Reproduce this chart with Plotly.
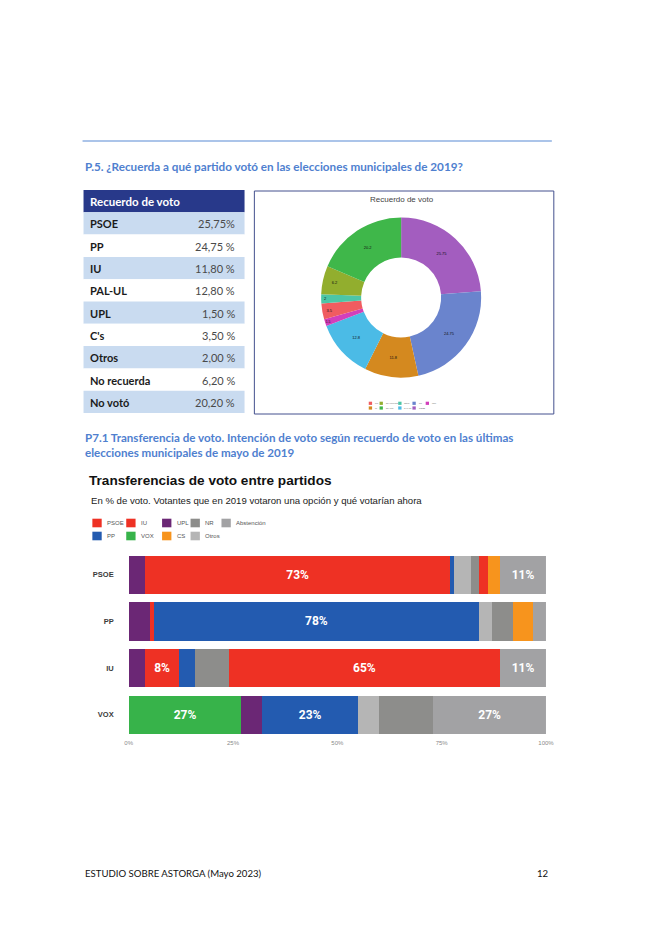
import plotly.graph_objects as go

W, H = 660, 934


def px(x):
    return x / W


def py(y):
    return 1 - y / H


# ---------------- Data: recall of vote (table + donut) ----------------
recall_parties = ["PSOE", "PP", "IU", "PAL-UL", "UPL", "C's", "Otros", "No recuerda", "No votó"]
recall_values = [25.75, 24.75, 11.80, 12.80, 1.50, 3.50, 2.00, 6.20, 20.20]
recall_text = ["25,75%", "24,75 %", "11,80 %", "12,80 %", "1,50 %", "3,50 %", "2,00 %", "6,20 %", "20,20 %"]
donut_colors = ["#a35dbf", "#6a84cd", "#d4891f", "#4bbbe6", "#d23fbb",
                "#f05c60", "#4cc6a6", "#92ae2e", "#3fb74a"]

# ---------------- Data: vote transfers ----------------
origin = ["PSOE", "PP", "IU", "VOX"]
dest_names = ["VOX", "UPL", "PSOE", "PP", "Otros", "NR", "IU", "CS", "Abstención"]
vox = [0, 0, 0, 27]
upl = [4, 5, 4, 5]
psoe = [73, 1, 8, 0]
pp = [1, 78, 4, 23]
otros = [4, 3, 0, 5]
nr = [2, 5, 8, 13]
iu = [2, 0, 65, 0]
cs = [3, 5, 0, 0]
abst = [11, 3, 11, 27]
dest_values = [vox, upl, psoe, pp, otros, nr, iu, cs, abst]
dest_colors = ["#37b34a", "#6b2775", "#ee3124", "#235bb0", "#b5b5b5",
               "#8d8d8b", "#ee3124", "#f7941d", "#a2a2a4"]
labelled = {"VOX", "UPL", "PSOE", "PP", "IU", "CS", "Abstención"}
x_ticks = [0, 25, 50, 75, 100]
x_tick_text = ["0%", "25%", "50%", "75%", "100%"]

fig = go.Figure()

shapes = []
annotations = []


def ann(text, x, y, size, color, family="Lato", xanchor="left", weight=None):
    f = dict(size=size, color=color, family=family)
    if weight:
        f["weight"] = weight
    annotations.append(dict(text=text, x=px(x), y=py(y), xref="paper", yref="paper",
                            xanchor=xanchor, yanchor="middle", showarrow=False, font=f))


# ---------------- Table (drawn as cells) ----------------
tab_x0, tab_x1, tab_top, row_h = 81, 245, 190, 22.3
shapes.append(dict(type="rect", xref="paper", yref="paper", x0=px(tab_x0), x1=px(tab_x1),
                   y0=py(tab_top + row_h), y1=py(tab_top), fillcolor="#28398a", line_width=0, layer="below"))
ann("<b>Recuerdo de voto</b>", tab_x0 + 5, tab_top + row_h / 2 + 0.5, 11.5, "white")
for i, (party, vtxt) in enumerate(zip(recall_parties, recall_text)):
    top = tab_top + row_h * (i + 1)
    fill = "#c9dbf0" if i % 2 == 0 else "#ffffff"
    shapes.append(dict(type="rect", xref="paper", yref="paper", x0=px(tab_x0), x1=px(tab_x1),
                       y0=py(top + row_h), y1=py(top), fillcolor=fill, line_width=0, layer="below"))
    ann(f"<b>{party}</b>", tab_x0 + 5, top + row_h / 2 + 0.5, 11, "#1b1b1b")
    ann(vtxt, tab_x1 - 8, top + row_h / 2 + 0.5, 11, "#4a4a4a", xanchor="right")

# ---------------- Donut ----------------
fig.add_trace(go.Pie(
    labels=recall_parties, values=recall_values, marker=dict(colors=donut_colors),
    hole=0.5, sort=False, direction="clockwise", rotation=0,
    texttemplate="%{value}", textposition="inside", insidetextorientation="horizontal",
    textfont=dict(size=4, color="#111", family="Liberation Sans"),
    domain=dict(x=[px(323), px(486)], y=[py(379), py(216)]),
    showlegend=False, hoverinfo="skip",
))

# ---------------- Stacked bars ----------------
for name, vals, col in zip(dest_names, dest_values, dest_colors):
    txt = [f"{v}%" if (name in labelled and v >= 8) else "" for v in vals]
    fig.add_trace(go.Bar(
        y=origin, x=vals, name=name, orientation="h", marker=dict(color=col, line_width=0),
        text=txt, texttemplate="<b>%{text}</b>", textposition="inside",
        insidetextanchor="middle", textangle=0,
        textfont=dict(color="white", size=12, family="Roboto"),
        showlegend=False, hoverinfo="skip", xaxis="x", yaxis="y",
    ))

# top rule
shapes.append(dict(type="line", xref="paper", yref="paper", x0=px(80), x1=px(558),
                   y0=py(141), y1=py(141), line=dict(color="#8fb1e2", width=1.5)))
# donut box
shapes.append(dict(type="rect", xref="paper", yref="paper", x0=px(255), x1=px(560),
                   y0=py(414), y1=py(191), line=dict(color="#44508e", width=1)))

heading_color = "#4f80cf"
ann("<b>P.5. ¿Recuerda a qué partido votó en las elecciones municipales de 2019?</b>", 80, 166, 11.7, heading_color)
ann("<b>P7.1 Transferencia de voto. Intención de voto según recuerdo de voto en las últimas</b>", 80, 437.5, 11.6, heading_color)
ann("<b>elecciones municipales de mayo de 2019</b>", 80, 452, 11.6, heading_color)
ann("Recuerdo de voto", 405, 199, 8, "#444", family="Liberation Sans", xanchor="center")
ann("<b>Transferencias de voto entre partidos</b>", 85, 480, 13.6, "#111", family="Liberation Sans")
ann("En % de voto. Votantes que en 2019 votaron una opción y qué votarían ahora", 87, 500, 9.6, "#222",
    family="Liberation Sans")
ann("ESTUDIO SOBRE ASTORGA (Mayo 2023)", 80, 873, 9.6, "#111")
ann("12", 557, 873, 9.6, "#111", xanchor="right")

# donut legend (alphabetical, column-major in 2 rows)
leg_items = sorted(zip(recall_parties, donut_colors), key=lambda t: t[0])
leg_cols_x = [371.5, 382.5, 401.5, 416, 429.5]
leg_rows_y = [403.3, 408]
for i, (lab, col) in enumerate(leg_items):
    cx = leg_cols_x[i // 2]
    cy = leg_rows_y[i % 2]
    shapes.append(dict(type="rect", xref="paper", yref="paper", x0=px(cx), x1=px(cx + 3.4),
                       y0=py(cy + 1.6), y1=py(cy - 1.6), fillcolor=col, line_width=0))
    ann(lab, cx + 4.2, cy, 2.2, "#666", family="Liberation Sans")

# bar legend (column-major in 2 rows)
bar_leg_order = ["PSOE", "PP", "IU", "VOX", "UPL", "CS", "NR", "Otros", "Abstención"]
bar_cols_x = [90, 124.5, 161, 190, 221.5]
bar_rows_y = [523, 536]
color_of = {}
for n, c in zip(dest_names, dest_colors):
    color_of.setdefault(n, c)
for i, lab in enumerate(bar_leg_order):
    cx = bar_cols_x[i // 2]
    cy = bar_rows_y[i % 2]
    shapes.append(dict(type="rect", xref="paper", yref="paper", x0=px(cx), x1=px(cx + 9.5),
                       y0=py(cy + 4.3), y1=py(cy - 4.3), fillcolor=color_of[lab], line_width=0))
    ann(lab, cx + 13, cy, 6, "#555", family="Liberation Sans")

fig.update_layout(
    width=W, height=H, autosize=False, margin=dict(l=0, r=0, t=0, b=0, pad=0),
    paper_bgcolor="white", plot_bgcolor="white",
    barmode="stack", bargap=0.18,
    showlegend=False,
    xaxis=dict(domain=[px(127), px(552)], range=[0, 100], tickvals=x_ticks, ticktext=x_tick_text,
               showgrid=False, zeroline=False, showline=False, ticks="",
               tickfont=dict(size=6, color="#8a8a8a", family="Liberation Sans"),
               anchor="y", fixedrange=True),
    yaxis=dict(domain=[py(738), py(551.5)], autorange="reversed", showgrid=False, zeroline=False,
               showline=False, ticks="", ticklabelstandoff=14,
               tickfont=dict(size=7.5, color="#3a3a3a", family="Liberation Sans", weight="bold"),
               anchor="x", fixedrange=True),
    shapes=shapes, annotations=annotations,
    font=dict(family="Liberation Sans"),
)

fig.write_html(
    "out.html",
    config={"responsive": False, "displayModeBar": False, "staticPlot": True},
    post_script="document.body.style.margin='0';document.body.style.overflow='hidden';",
)
